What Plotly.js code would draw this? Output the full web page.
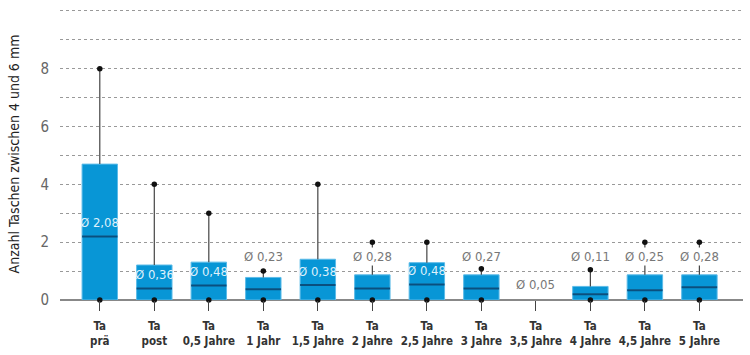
<!DOCTYPE html>
<html>
<head>
<meta charset="utf-8">
<script src="https://cdn.plot.ly/plotly-3.0.1.min.js"></script>
<style>html,body{margin:0;padding:0;background:#fff;}#chart{width:750px;height:355px;}</style>
</head>
<body>
<div id="chart"></div>
<script>
// ---- data ----
const categories = ["Ta<br>prä","Ta<br>post","Ta<br>0,5 Jahre","Ta<br>1 Jahr","Ta<br>1,5 Jahre","Ta<br>2 Jahre","Ta<br>2,5 Jahre","Ta<br>3 Jahre","Ta<br>3,5 Jahre","Ta<br>4 Jahre","Ta<br>4,5 Jahre","Ta<br>5 Jahre"];
const minVals    = [0,    0,    0,    0,    0,    0,    0,    0,    null, 0,    0,    0   ];
const q1Vals     = [0,    0,    0,    0,    0,    0,    0,    0,    null, 0,    0,    0   ];
const medianVals = [2.2,  0.4,  0.5,  0.37, 0.52, 0.4,  0.54, 0.4,  null, 0.2,  0.34, 0.44];
const q3Vals     = [4.7,  1.21, 1.31, 0.78, 1.41, 0.87, 1.29, 0.87, null, 0.47, 0.87, 0.87];
const maxVals    = [8,    4,    3,    1,    4,    2,    2,    1.08, null, 1.05, 2,    2   ];
const meanVals   = [2.08, 0.36, 0.48, 0.23, 0.38, 0.28, 0.48, 0.27, 0.05, 0.11, 0.25, 0.28];
const yTicks     = [0, 2, 4, 6, 8];

// ---- build ----
const idx = categories.map((c,i)=>i).filter(i => q3Vals[i] !== null);
const bx = idx.map(i=>categories[i]);
const FONT = "'DejaVu Sans Condensed', 'Liberation Sans Narrow', sans-serif";
const BLUE = '#0896d6';

const boxTrace = {
  type:'box', x:bx,
  q1: idx.map(i=>q1Vals[i]), median: idx.map(i=>medianVals[i]), q3: idx.map(i=>q3Vals[i]),
  lowerfence: idx.map(i=>q1Vals[i]), upperfence: idx.map(i=>q3Vals[i]),
  fillcolor: BLUE, line:{color:'#5cbbe8', width:1}, whiskerwidth:0,
  width:0.65, boxpoints:false, hoverinfo:'skip', showlegend:false
};
const medianTrace = {
  type:'box', x:bx,
  q1: idx.map(i=>medianVals[i]), median: idx.map(i=>medianVals[i]), q3: idx.map(i=>medianVals[i]),
  lowerfence: idx.map(i=>medianVals[i]), upperfence: idx.map(i=>medianVals[i]),
  fillcolor:'rgba(0,0,0,0)', line:{color:'#0a4f7e', width:2}, whiskerwidth:0,
  width:0.65, boxpoints:false, hoverinfo:'skip', showlegend:false
};
const wx=[], wy=[];
idx.forEach(i=>{ wx.push(categories[i],categories[i],null); wy.push(q3Vals[i],maxVals[i],null); });
const whiskerTrace = {type:'scatter', mode:'lines', x:wx, y:wy, line:{color:'#444',width:1.2}, hoverinfo:'skip', showlegend:false};
const dx=[], dy=[];
idx.forEach(i=>{ dx.push(categories[i],categories[i]); dy.push(maxVals[i],minVals[i]); });
const dotTrace = {type:'scatter', mode:'markers', x:dx, y:dy, marker:{color:'#111',size:5.5}, hoverinfo:'skip', showlegend:false, cliponaxis:false};

const annotations = categories.map((c,i)=>{
  const hasBox = q3Vals[i] !== null;
  const inside = hasBox && (q3Vals[i]-q1Vals[i]) > 1.0;
  const y = inside ? medianVals[i] + 0.47 : (hasBox ? 1.52 : 0.54);
  return {
    x:c, y:y, xref:'x', yref:'y', showarrow:false,
    text:'Ø ' + meanVals[i].toFixed(2).replace('.', ','),
    font:{family:FONT, size:13, color: inside ? '#dff1fb' : '#777'},
    bgcolor: inside ? 'rgba(0,0,0,0)' : '#ffffff', borderpad:1
  };
});

const layout = {
  width:750, height:355,
  margin:{l:60, r:7, t:8, b:55},
  paper_bgcolor:'#fff', plot_bgcolor:'#fff',
  showlegend:false,
  xaxis:{
    type:'category', categoryorder:'array', categoryarray:categories,
    range:[-0.73, 11.8], showgrid:false, zeroline:false,
    showline:false, ticks:'outside', ticklen:10, tickwidth:1.2, tickcolor:'#444',
    ticklabelstandoff:5,
    tickfont:{family:FONT, size:11.5, color:'#333', weight:'bold'}
  },
  yaxis:{
    range:[0, 10.1], tickmode:'array', tickvals:yTicks, ticktext:yTicks.map(String),
    showgrid:true, gridcolor:'#999', griddash:'dot', gridwidth:1,
    zeroline:true, zerolinecolor:'#888', zerolinewidth:1.2,
    ticks:'', ticklabelstandoff:10,
    tickfont:{family:FONT, size:15, color:'#666'},
    title:{text:'Anzahl Taschen zwischen 4 und 6 mm', font:{family:FONT, size:14, color:'#222'}, standoff:17},
    minor:{dtick:1, showgrid:true, gridcolor:'#999', griddash:'dot', gridwidth:1, ticks:''}
  },
  annotations: annotations
};

Plotly.newPlot('chart', [boxTrace, medianTrace, whiskerTrace, dotTrace], layout, {staticPlot:true});
</script>
</body>
</html>
